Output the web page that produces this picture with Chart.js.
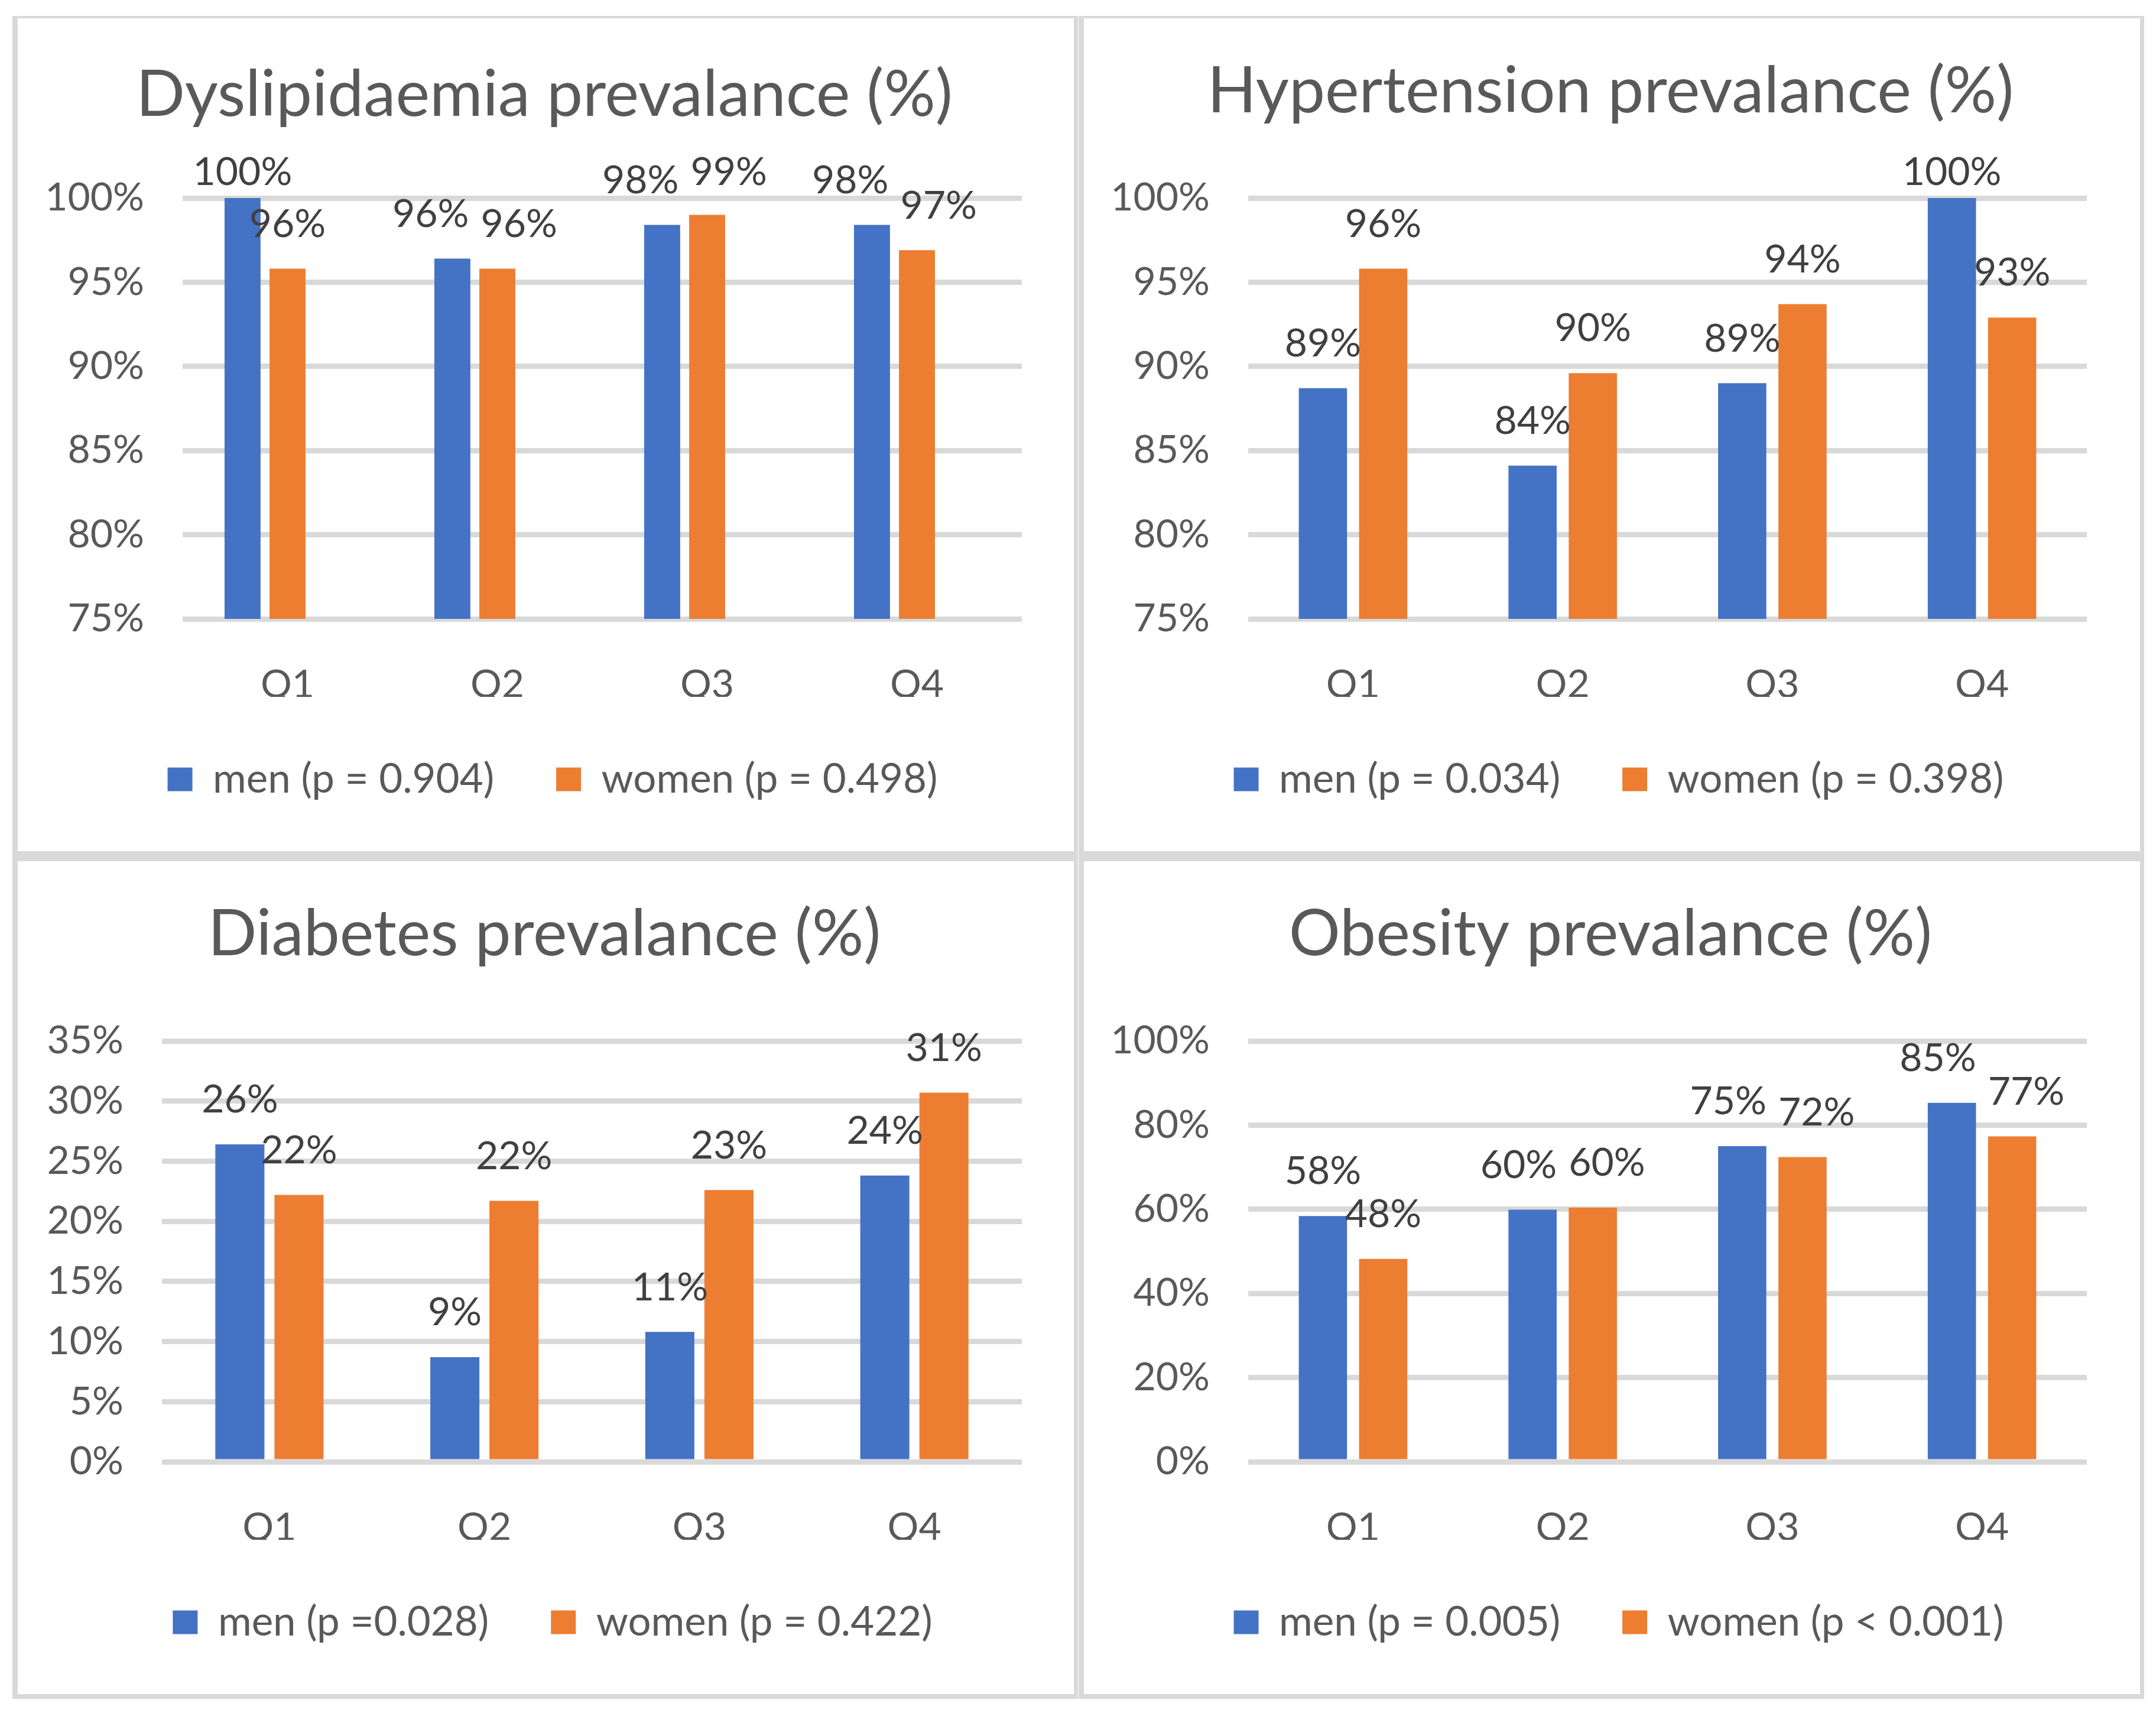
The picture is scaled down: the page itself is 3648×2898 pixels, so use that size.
<!DOCTYPE html>
<html>
<head>
<meta charset="utf-8">
<script src="https://cdn.jsdelivr.net/npm/chart.js@4.4.1/dist/chart.umd.min.js"></script>
<style>
  html, body { margin: 0; padding: 0; background: #ffffff; }
  body { width: 3648px; height: 2898px; position: relative; overflow: hidden; }
  .panel { position: absolute; box-sizing: border-box; border-style: solid; border-color: #d9d9d9;
           border-width: 4px 7px 8px 9px; background: #fff; }
  .panel.bottom { border-top-width: 9px; }
  .panel canvas { display: block; }
</style>
</head>
<body>
<div class="panel" id="p1" style="left:21px; top:27px; width:1803px; height:1421px;"><canvas id="c1" width="1787" height="1409"></canvas></div>
<div class="panel" id="p2" style="left:1825px; top:27px; width:1803px; height:1421px;"><canvas id="c2" width="1787" height="1409"></canvas></div>
<div class="panel bottom" id="p3" style="left:21px; top:1448px; width:1803px; height:1426px;"><canvas id="c3" width="1787" height="1409"></canvas></div>
<div class="panel bottom" id="p4" style="left:1825px; top:1448px; width:1803px; height:1426px;"><canvas id="c4" width="1787" height="1409"></canvas></div>
<script>
// ---- data ----
const categories = ['Q1', 'Q2', 'Q3', 'Q4'];

const dysTitle = 'Dyslipidaemia prevalance (%)';
const dysLegend = ['men (p = 0.904)', 'women (p = 0.498)'];
const dysMen = [100, 96.4, 98.4, 98.4];
const dysWomen = [95.8, 95.8, 99.0, 96.9];
const dysEmpty = [null, null, null, null]; // empty third series of the original chart
const dysTicks = [75, 80, 85, 90, 95, 100];

const hypTitle = 'Hypertension prevalance (%)';
const hypLegend = ['men (p = 0.034)', 'women (p = 0.398)'];
const hypMen = [88.7, 84.1, 89.0, 100];
const hypWomen = [95.8, 89.6, 93.7, 92.9];
const hypTicks = [75, 80, 85, 90, 95, 100];

const diaTitle = 'Diabetes prevalance (%)';
const diaLegend = ['men (p =0.028)', 'women (p = 0.422)'];
const diaMen = [26.4, 8.7, 10.8, 23.8];
const diaWomen = [22.2, 21.7, 22.6, 30.7];
const diaTicks = [0, 5, 10, 15, 20, 25, 30, 35];

const obeTitle = 'Obesity prevalance (%)';
const obeLegend = ['men (p = 0.005)', 'women (p < 0.001)'];
const obeMen = [58.4, 59.9, 75.0, 85.3];
const obeWomen = [48.2, 60.4, 72.4, 77.3];
const obeTicks = [0, 20, 40, 60, 80, 100];

// ---- style ----
const BLUE = '#4472C4';
const ORANGE = '#ED7D31';
const FONT = 'Lato';
const TXT = '#595959';

// value labels above bars ("outside end"), kept inside the chart's top margin,
// and pushed apart sideways when two labels of one category collide
const valueLabels = {
  id: 'valueLabels',
  afterDatasetsDraw(chart) {
    const ctx = chart.ctx;
    const area = chart.chartArea;
    ctx.save();
    ctx.font = '66px ' + FONT;
    ctx.fillStyle = '#404040';
    ctx.textAlign = 'center';
    ctx.textBaseline = 'middle';
    const groups = [];
    chart.data.datasets.forEach((ds, i) => {
      if (!ds.label) return;
      const meta = chart.getDatasetMeta(i);
      meta.data.forEach((bar, j) => {
        const v = ds.data[j];
        if (v == null) return;
        const text = Math.round(v) + '%';
        const item = { text, x: bar.x, y: Math.max(bar.y - 75, area.top - 43), w: ctx.measureText(text).width };
        (groups[j] = groups[j] || []).push(item);
      });
    });
    groups.forEach(g => {
      if (!g) return;
      if (g.length === 2) {
        const [a, b] = g;
        const need = (a.w + b.w) / 2 + 20;
        const dist = b.x - a.x;
        if (Math.abs(a.y - b.y) < 60 && dist < need) {
          const s = (need - dist) / 2;
          a.x -= s; b.x += s;
        }
      }
      g.forEach(it => ctx.fillText(it.text, it.x, it.y));
    });
    ctx.restore();
  }
};

// title and legend row centred on the whole panel, as in the original
const centreBoxes = {
  id: 'centreBoxes',
  afterLayout(chart, args, opts) {
    const move = (box, c) => {
      if (!box) return;
      const d = c - (box.left + box.right) / 2;
      box.left += d; box.right += d;
    };
    move(chart.legend, opts.legend);
    move(chart.titleBlock, opts.title);
  }
};

function makeChart(id, title, legend, men, women, ticks, opt) {
  const datasets = [
    { label: legend[0], data: men, backgroundColor: BLUE, borderWidth: 0 },
    { label: legend[1], data: women, backgroundColor: ORANGE, borderWidth: 0 }
  ];
  if (opt.extra) datasets.push({ label: '', data: opt.extra, backgroundColor: 'rgba(0,0,0,0)' });
  datasets.forEach(d => { d.categoryPercentage = opt.cat; d.barPercentage = opt.bar; });
  return new Chart(document.getElementById(id), {
    type: 'bar',
    data: { labels: categories, datasets },
    plugins: [valueLabels, centreBoxes],
    options: {
      responsive: false,
      animation: false,
      devicePixelRatio: 1,
      layout: { padding: { left: 0, right: opt.right, top: 0, bottom: 77 } },
      plugins: {
        centreBoxes: { legend: 905, title: 891 },
        title: {
          display: true, text: title, color: TXT,
          font: { family: FONT, size: 109, weight: 'normal', lineHeight: 1.2 },
          padding: { top: opt.tt, bottom: 304 - opt.tt - 130.8 }
        },
        legend: {
          position: 'bottom',
          labels: {
            color: TXT, font: { family: FONT, size: 69 },
            boxWidth: 42, boxHeight: 40, padding: 105,
            filter: item => item.text !== ''
          }
        },
        tooltip: { enabled: false }
      },
      scales: {
        x: {
          grid: { display: false, drawTicks: false },
          border: { display: false },
          ticks: { color: TXT, font: { family: FONT, size: 66 }, padding: 72 },
          afterFit: s => { s.height = 132; }
        },
        y: {
          min: ticks[0], max: ticks[ticks.length - 1],
          grid: { color: '#d9d9d9', lineWidth: 9, drawTicks: false },
          border: { display: false },
          ticks: {
            stepSize: ticks[1] - ticks[0],
            color: TXT, font: { family: FONT, size: 66 }, padding: 65,
            callback: v => v + '%'
          },
          afterFit: s => { s.width = opt.yw; }
        }
      }
    }
  });
}

function drawAll() {
  makeChart('c1', dysTitle, dysLegend, dysMen, dysWomen, dysTicks, { yw: 279, right: 88, tt: 64, cat: 0.643, bar: 0.8, extra: dysEmpty });
  makeChart('c2', hypTitle, hypLegend, hypMen, hypWomen, hypTicks, { yw: 278, right: 90, tt: 58, cat: 0.575, bar: 0.8 });
  makeChart('c3', diaTitle, diaLegend, diaMen, diaWomen, diaTicks, { yw: 244, right: 88, tt: 58, cat: 0.55, bar: 0.83 });
  makeChart('c4', obeTitle, obeLegend, obeMen, obeWomen, obeTicks, { yw: 278, right: 90, tt: 58, cat: 0.575, bar: 0.8 });
}

if (document.fonts && document.fonts.load) {
  Promise.all([document.fonts.load('66px Lato'), document.fonts.load('109px Lato'), document.fonts.load('69px Lato')])
    .then(drawAll, drawAll);
} else {
  drawAll();
}
</script>
</body>
</html>
